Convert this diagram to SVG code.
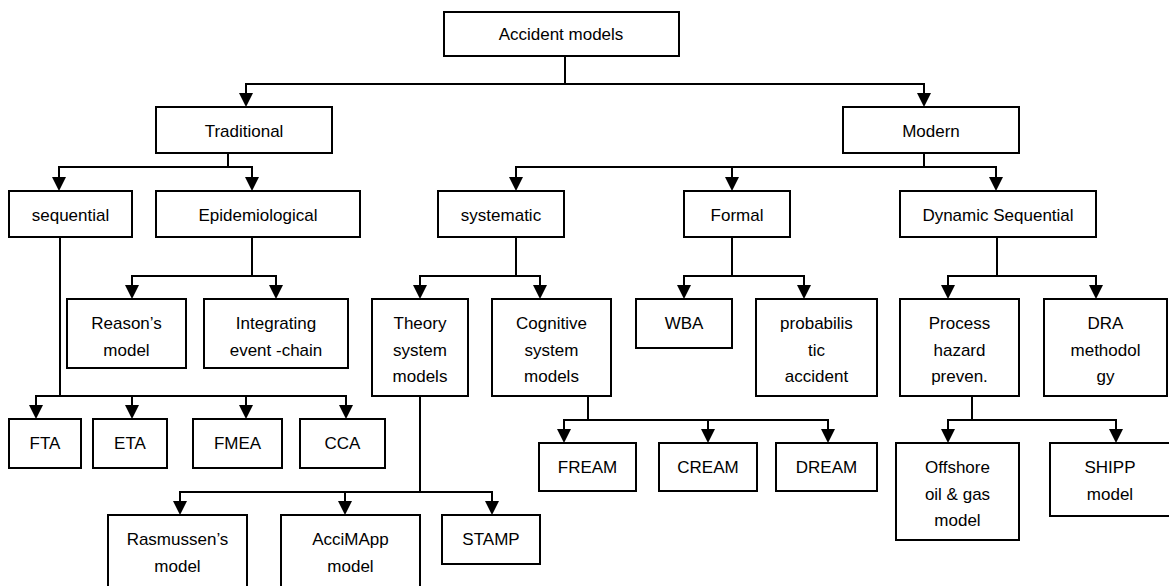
<svg xmlns="http://www.w3.org/2000/svg" width="1169" height="586" viewBox="0 0 1169 586">
<style>
.box{fill:#fff;stroke:#000;stroke-width:2}
.lbl{font-family:"Liberation Sans",Arial,sans-serif;font-size:17px;fill:#000;text-anchor:middle}
.con path{fill:none;stroke:#000;stroke-width:2;marker-end:url(#ah)}
</style>
<defs>
<marker id="ah" markerUnits="userSpaceOnUse" markerWidth="14" markerHeight="14" viewBox="0 0 14 14" refX="1" refY="7" orient="auto">
<path d="M0,0 L14,7 L0,14 z" fill="#000"/>
</marker>
</defs>
<rect width="1169" height="586" fill="#fff"/>
<g class="con" id="connectors">
<path d="M565 56 V84 H246 V94"/>
<path d="M565 56 V84 H924 V94"/>
<path d="M228 153 V167 H59 V178"/>
<path d="M228 153 V167 H252 V178"/>
<path d="M924 153 V167 H516 V178"/>
<path d="M924 153 V167 H732 V178"/>
<path d="M924 153 V167 H996 V178"/>
<path d="M252 237 V276 H132 V286"/>
<path d="M252 237 V276 H276 V286"/>
<path d="M516 237 V276 H420 V286"/>
<path d="M516 237 V276 H540 V286"/>
<path d="M732 237 V276 H684 V286"/>
<path d="M732 237 V276 H804 V286"/>
<path d="M997 237 V276 H948 V286"/>
<path d="M997 237 V276 H1096 V286"/>
<path d="M60 237 V396 H36 V406"/>
<path d="M60 237 V396 H132 V406"/>
<path d="M60 237 V396 H246 V406"/>
<path d="M60 237 V396 H346 V406"/>
<path d="M420 396 V492 H180 V502"/>
<path d="M420 396 V492 H345 V502"/>
<path d="M420 396 V492 H492 V502"/>
<path d="M588 396 V420 H564 V430"/>
<path d="M588 396 V420 H708 V430"/>
<path d="M588 396 V420 H828 V430"/>
<path d="M972 396 V420 H948 V430"/>
<path d="M972 396 V420 H1116 V430"/>
</g>
<g id="accident"><rect class="box" x="444" y="12" width="235" height="44"/><text class="lbl" x="561" y="40">Accident  models</text></g>
<g id="traditional"><rect class="box" x="156" y="107" width="176" height="46"/><text class="lbl" x="244" y="137">Traditional</text></g>
<g id="modern"><rect class="box" x="843" y="107" width="176" height="46"/><text class="lbl" x="931" y="137">Modern</text></g>
<g id="sequential"><rect class="box" x="9" y="191" width="123" height="46"/><text class="lbl" x="70.5" y="221">sequential</text></g>
<g id="epidemiological"><rect class="box" x="156" y="191" width="204" height="46"/><text class="lbl" x="258" y="221">Epidemiological</text></g>
<g id="systematic"><rect class="box" x="438" y="191" width="126" height="46"/><text class="lbl" x="501" y="221">systematic</text></g>
<g id="formal"><rect class="box" x="684" y="191" width="106" height="46"/><text class="lbl" x="737" y="221">Formal</text></g>
<g id="dynamic"><rect class="box" x="900" y="191" width="196" height="46"/><text class="lbl" x="998" y="221">Dynamic Sequential</text></g>
<g id="reasons"><rect class="box" x="67" y="299" width="119" height="69"/><text class="lbl" x="126.5" y="329"><tspan x="126.5">Reason’s</tspan><tspan x="126.5" dy="26.5">model</tspan></text></g>
<g id="integrating"><rect class="box" x="204" y="299" width="144" height="69"/><text class="lbl" x="276" y="329"><tspan x="276">Integrating</tspan><tspan x="276" dy="26.5">event -chain</tspan></text></g>
<g id="theory"><rect class="box" x="372" y="299" width="96" height="97"/><text class="lbl" x="420" y="329"><tspan x="420">Theory</tspan><tspan x="420" dy="26.5">system</tspan><tspan x="420" dy="26.5">models</tspan></text></g>
<g id="cognitive"><rect class="box" x="492" y="299" width="119" height="97"/><text class="lbl" x="551.5" y="329"><tspan x="551.5">Cognitive</tspan><tspan x="551.5" dy="26.5">system</tspan><tspan x="551.5" dy="26.5">models</tspan></text></g>
<g id="wba"><rect class="box" x="636" y="299" width="96" height="49"/><text class="lbl" x="684" y="329">WBA</text></g>
<g id="probabilistic"><rect class="box" x="756" y="299" width="121" height="97"/><text class="lbl" x="816.5" y="329"><tspan x="816.5">probabilis</tspan><tspan x="816.5" dy="26.5">tic</tspan><tspan x="816.5" dy="26.5">accident</tspan></text></g>
<g id="process"><rect class="box" x="900" y="299" width="119" height="97"/><text class="lbl" x="959.5" y="329"><tspan x="959.5">Process</tspan><tspan x="959.5" dy="26.5">hazard</tspan><tspan x="959.5" dy="26.5">preven.</tspan></text></g>
<g id="dra"><rect class="box" x="1044" y="299" width="123" height="97"/><text class="lbl" x="1105.5" y="329"><tspan x="1105.5">DRA</tspan><tspan x="1105.5" dy="26.5">methodol</tspan><tspan x="1105.5" dy="26.5">gy</tspan></text></g>
<g id="fta"><rect class="box" x="9" y="419" width="72" height="49"/><text class="lbl" x="45" y="449">FTA</text></g>
<g id="eta"><rect class="box" x="93" y="419" width="74" height="49"/><text class="lbl" x="130" y="449">ETA</text></g>
<g id="fmea"><rect class="box" x="193" y="419" width="89" height="49"/><text class="lbl" x="237.5" y="449">FMEA</text></g>
<g id="cca"><rect class="box" x="300" y="419" width="85" height="49"/><text class="lbl" x="342.5" y="449">CCA</text></g>
<g id="fream"><rect class="box" x="539" y="443" width="97" height="48"/><text class="lbl" x="587.5" y="473">FREAM</text></g>
<g id="cream"><rect class="box" x="659" y="443" width="98" height="48"/><text class="lbl" x="708" y="473">CREAM</text></g>
<g id="dream"><rect class="box" x="776" y="443" width="101" height="48"/><text class="lbl" x="826.5" y="473">DREAM</text></g>
<g id="offshore"><rect class="box" x="896" y="443" width="123" height="97"/><text class="lbl" x="957.5" y="473"><tspan x="957.5">Offshore</tspan><tspan x="957.5" dy="26.5">oil &amp; gas</tspan><tspan x="957.5" dy="26.5">model</tspan></text></g>
<g id="shipp"><rect class="box" x="1050" y="443" width="122" height="73"/><text class="lbl" x="1110" y="473"><tspan x="1110">SHIPP</tspan><tspan x="1110" dy="26.5">model</tspan></text></g>
<g id="rasmussen"><rect class="box" x="108" y="515" width="139" height="90"/><text class="lbl" x="177.5" y="545"><tspan x="177.5">Rasmussen’s</tspan><tspan x="177.5" dy="26.5">model</tspan></text></g>
<g id="accimapp"><rect class="box" x="281" y="515" width="139" height="90"/><text class="lbl" x="350.5" y="545"><tspan x="350.5">AcciMApp</tspan><tspan x="350.5" dy="26.5">model</tspan></text></g>
<g id="stamp"><rect class="box" x="442" y="515" width="98" height="49"/><text class="lbl" x="491" y="545">STAMP</text></g>
</svg>
